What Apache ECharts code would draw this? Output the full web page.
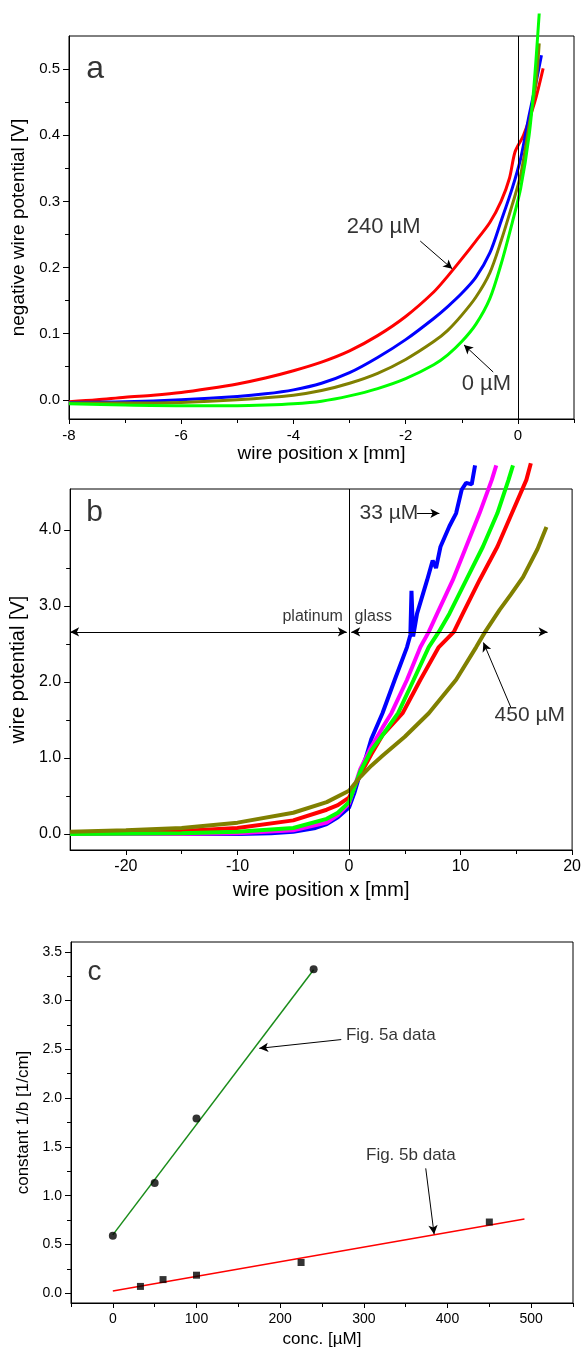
<!DOCTYPE html>
<html>
<head>
<meta charset="utf-8">
<script src="https://cdn.jsdelivr.net/npm/echarts@6/dist/echarts.min.js"></script>
<style>html,body{margin:0;padding:0;background:#fff}#c{width:584px;height:1349px}</style>
</head>
<body>
<div id="c"></div>
<script>
// ---------- Panel a: negative wire potential vs position ----------
const aRed240 = [[-8,-0.003],[-7.5,0.000],[-7,0.004],[-6.5,0.007],[-6,0.011],[-5.5,0.017],[-5,0.024],[-4.5,0.033],[-4,0.044],[-3.5,0.057],[-3,0.074],[-2.5,0.097],[-2,0.126],[-1.5,0.163],[-1.25,0.187],[-1,0.213],[-0.75,0.240],[-0.5,0.268],[-0.3,0.300],[-0.15,0.335],[-0.05,0.375],[0.1,0.400],[0.3,0.450],[0.45,0.501]];
const aBlue = [[-8,-0.004],[-7,-0.003],[-6,0.000],[-5,0.005],[-4.5,0.009],[-4,0.015],[-3.5,0.025],[-3,0.041],[-2.5,0.064],[-2,0.091],[-1.5,0.123],[-1.25,0.141],[-1,0.161],[-0.75,0.185],[-0.5,0.222],[-0.3,0.270],[-0.1,0.320],[0.05,0.365],[0.2,0.430],[0.32,0.478],[0.42,0.521]];
const aOlive = [[-8,-0.005],[-7,-0.005],[-6,-0.004],[-5,0.000],[-4,0.007],[-3.5,0.014],[-3,0.025],[-2.5,0.040],[-2,0.061],[-1.5,0.088],[-1.25,0.105],[-1,0.128],[-0.75,0.155],[-0.5,0.192],[-0.3,0.240],[-0.1,0.295],[0.05,0.340],[0.2,0.415],[0.32,0.478],[0.38,0.539]];
const aGreen0 = [[-8,-0.006],[-7,-0.008],[-6,-0.009],[-5,-0.009],[-4.5,-0.008],[-4,-0.006],[-3.5,-0.002],[-3,0.006],[-2.5,0.017],[-2,0.032],[-1.5,0.053],[-1.25,0.068],[-1,0.088],[-0.75,0.114],[-0.5,0.153],[-0.3,0.205],[-0.1,0.268],[0.05,0.320],[0.2,0.400],[0.29,0.478],[0.38,0.584]];
const aXTicks = [-8,-6,-4,-2,0];
const aXMinor = [-7,-5,-3,-1,1];
const aYTicks = [0,0.1,0.2,0.3,0.4,0.5];
const aYMinor = [0.05,0.15,0.25,0.35,0.45];

// ---------- Panel b: wire potential vs position ----------
const bBlue33 = [[-25,0.0],[-20,0.0],[-15,0.0],[-10,0.0],[-7,0.01],[-5,0.03],[-3,0.08],[-2,0.13],[-1,0.22],[0,0.35],[0.5,0.55],[1,0.8],[1.5,1.0],[2,1.25],[3,1.59],[4.1,2.03],[5.2,2.46],[5.5,2.62],[5.6,3.2],[5.75,2.6],[6.1,2.9],[7,3.34],[7.5,3.6],[7.8,3.5],[8.2,3.78],[9,4.05],[9.6,4.22],[10.1,4.53],[10.5,4.62],[11,4.6],[11.3,4.85]];
const bMagenta = [[-25,0.0],[-15,0.0],[-10,0.01],[-5,0.05],[-2,0.15],[-1,0.25],[0,0.4],[1,0.85],[2,1.15],[3,1.4],[3.8,1.59],[5.2,2.03],[6.4,2.46],[7.15,2.66],[7.9,2.9],[9.3,3.34],[10.5,3.78],[11.7,4.22],[12.8,4.66],[13.2,4.85]];
const bGreen = [[-25,0.0],[-15,0.01],[-10,0.03],[-5,0.08],[-2,0.2],[-1,0.28],[0,0.42],[1,0.82],[2,1.1],[3,1.3],[4.4,1.59],[5.8,2.03],[7.15,2.46],[8.05,2.66],[9.0,2.9],[10.5,3.34],[12.0,3.78],[13.3,4.22],[14.3,4.66],[14.7,4.85]];
const bRed = [[-25,0.01],[-20,0.02],[-15,0.04],[-10,0.08],[-5,0.18],[-2,0.32],[-1,0.38],[0,0.48],[1,0.78],[2,1.05],[3,1.3],[4.8,1.59],[6.4,2.03],[8.05,2.46],[9.4,2.66],[10.2,2.9],[11.7,3.34],[13.3,3.78],[14.6,4.22],[15.9,4.66],[16.3,4.88]];
const bOlive450 = [[-25,0.03],[-20,0.05],[-15,0.08],[-10,0.15],[-5,0.28],[-2,0.42],[0,0.57],[1,0.75],[2,0.9],[3,1.03],[5,1.28],[7.15,1.59],[9.6,2.03],[11.4,2.46],[12.2,2.66],[13.5,2.95],[14.5,3.15],[15.6,3.38],[16.9,3.75],[17.7,4.04]];
const bXTicks = [-20,-10,0,10,20];
const bXMinor = [-15,-5,5,15];
const bYTicks = [0,1,2,3,4];
const bYMinor = [0.5,1.5,2.5,3.5];

// ---------- Panel c: constant 1/b vs concentration ----------
const cConcA = [0,50,100,240];
const cValA = [0.59,1.13,1.79,3.32];
const cConcB = [33,60,100,225,450];
const cValB = [0.07,0.14,0.185,0.315,0.73];
const cFitA = [[0,0.598],[240,3.315]];
const cFitB = [[0,0.024],[492,0.762]];
const cXTicks = [0,100,200,300,400,500];
const cXMinor = [-50,50,150,250,350,450,550];
const cYTicks = [0,0.5,1,1.5,2,2.5,3,3.5];
const cYMinor = [0.25,0.75,1.25,1.75,2.25,2.75,3.25];

const FONT = 'Liberation Sans, Arial, sans-serif';
const chart = echarts.init(document.getElementById('c'), null, {renderer:'canvas', width:584, height:1349});

function mainX(gi, min, max, ticks, name, gap, fs, fmt, nfs){
  return {type:'value', gridIndex:gi, min, max, position:'bottom',
    axisLine:{onZero:false, lineStyle:{color:'#000', width:1}},
    axisTick:{show:true, customValues:ticks, length:5, lineStyle:{color:'#000'}},
    axisLabel:{customValues:ticks, color:'#000', fontSize:fs, fontFamily:FONT, margin:9, formatter:fmt},
    splitLine:{show:false}, name, nameLocation:'middle', nameGap:gap,
    nameTextStyle:{color:'#000', fontSize:nfs, fontFamily:FONT}};
}
function minorX(gi, min, max, ticks){
  return {type:'value', gridIndex:gi, min, max, position:'bottom',
    axisLine:{show:false, onZero:false}, axisLabel:{show:false},
    axisTick:{show:true, customValues:ticks, length:4, lineStyle:{color:'#000'}},
    splitLine:{show:false}};
}
function mainY(gi, min, max, ticks, name, gap, fs, fmt, nfs){
  return {type:'value', gridIndex:gi, min, max, position:'left',
    axisLine:{onZero:false, lineStyle:{color:'#000', width:1}},
    axisTick:{show:true, customValues:ticks, length:6, lineStyle:{color:'#000'}},
    axisLabel:{customValues:ticks, color:'#000', fontSize:fs, fontFamily:FONT, margin:9, formatter:fmt},
    splitLine:{show:false}, name, nameLocation:'middle', nameGap:gap, nameRotate:90,
    nameTextStyle:{color:'#000', fontSize:nfs, fontFamily:FONT}};
}
function minorY(gi, min, max, ticks){
  return {type:'value', gridIndex:gi, min, max, position:'left',
    axisLine:{show:false, onZero:false}, axisLabel:{show:false},
    axisTick:{show:true, customValues:ticks, length:4, lineStyle:{color:'#000'}},
    splitLine:{show:false}};
}
const f1 = v => Number(v).toFixed(1);
const f0 = v => String(Math.round(v));

function curve(xi, data, color, width, smooth){
  return {type:'line', xAxisIndex:xi, yAxisIndex:xi, data, showSymbol:false, symbol:'none',
    smooth, clip:false, silent:true, lineStyle:{color, width}, z:3};
}
function label(x, y, text, fs, pos){
  return {value:[x,y], label:{show:true, formatter:text, fontSize:fs, fontFamily:FONT, color:'#000',
    position:pos||'right', distance:0}};
}
function arrow(x1,y1,x2,y2){
  return [{coord:[x1,y1]},{coord:[x2,y2]}];
}
function annot(xi, labels, arrows, extraLines){
  const mlData = arrows.concat(extraLines||[]);
  return {type:'scatter', xAxisIndex:xi, yAxisIndex:xi, data:labels, symbolSize:1,
    itemStyle:{color:'rgba(0,0,0,0)'}, silent:true, z:10, clip:false,
    markLine:{silent:true, symbol:['none','arrow'], symbolSize:[7,9], precision:4,
      label:{show:false}, lineStyle:{color:'#000', width:1, type:'solid'}, data:mlData}};
}

const option = {
  animation:false,
  backgroundColor:'#fff',
  grid:[
    {left:69, top:36, width:505, height:383, show:true, borderColor:'#000', borderWidth:1, backgroundColor:'transparent'},
    {left:70, top:489, width:503, height:361, show:true, borderColor:'#000', borderWidth:1, backgroundColor:'transparent'},
    {left:71, top:942, width:502, height:361, show:true, borderColor:'#000', borderWidth:1, backgroundColor:'transparent'}
  ],
  xAxis:[
    mainX(0,-8,1,aXTicks,'wire position x [mm]',21,15,f0,19),
    mainX(1,-25,20,bXTicks,'wire position x [mm]',30,16,f0,20),
    mainX(2,-50,550,cXTicks,'conc. [\u00b5M]',28,14,f0,17),
    minorX(0,-8,1,aXMinor),
    minorX(1,-25,20,bXMinor),
    minorX(2,-50,550,cXMinor)
  ],
  yAxis:[
    mainY(0,-0.029,0.55,aYTicks,'negative wire potential [V]',30,15,f1,19),
    mainY(1,-0.21,4.54,bYTicks,'wire potential [V]',36,16,f1,20),
    mainY(2,-0.1,3.6,cYTicks,'constant 1/b [1/cm]',28,14,f1,17),
    minorY(0,-0.029,0.55,aYMinor),
    minorY(1,-0.21,4.54,bYMinor),
    minorY(2,-0.1,3.6,cYMinor)
  ],
  series:[
    // panel a
    curve(0,aRed240,'#ff0000',3,0.3),
    curve(0,aBlue,'#0000ff',3,0.3),
    curve(0,aOlive,'#808000',3,0.3),
    curve(0,aGreen0,'#00ff00',3,0.3),
    annot(0,[
      label(-7.7,0.50,'a',32),
      label(-3.06,0.262,'240 \u00b5M',22),
      label(-1.01,0.024,'0 \u00b5M',22)
    ],[
      arrow(-1.74,0.240,-1.17,0.198),
      arrow(-0.44,0.042,-0.96,0.083)
    ],[
      [{coord:[0,-0.029], symbol:'none'},{coord:[0,0.55], symbol:'none'}]
    ]),
    // panel b
    curve(1,bBlue33,'#0000ff',4,false),
    curve(1,bMagenta,'#ff00ff',4,false),
    curve(1,bRed,'#ff0000',4,false),
    curve(1,bGreen,'#00ff00',4,false),
    curve(1,bOlive450,'#808000',4,false),
    annot(1,[
      label(-23.6,4.23,'b',30),
      label(0.9,4.22,'33 \u00b5M',21),
      label(-0.5,2.86,'platinum',16,'left'),
      label(0.45,2.86,'glass',16),
      label(13.0,1.57,'450 \u00b5M',21)
    ],[
      arrow(6.1,4.22,8.1,4.22),
      arrow(14.5,1.67,12.05,2.52)
    ],[
      [{coord:[0,-0.21], symbol:'none'},{coord:[0,4.54], symbol:'none'}],
      [{coord:[-0.2,2.66], symbol:'arrow'},{coord:[-25,2.66], symbol:'arrow'}],
      [{coord:[0.2,2.66], symbol:'arrow'},{coord:[17.8,2.66], symbol:'arrow'}]
    ]),
    // panel c
    {type:'line', xAxisIndex:2, yAxisIndex:2, data:cFitA, showSymbol:false, symbol:'none', silent:true,
      lineStyle:{color:'#1a8c1a', width:1.5}, z:3},
    {type:'line', xAxisIndex:2, yAxisIndex:2, data:cFitB, showSymbol:false, symbol:'none', silent:true,
      lineStyle:{color:'#ff0000', width:1.5}, z:3},
    {type:'scatter', xAxisIndex:2, yAxisIndex:2, data:cConcA.map((c,i)=>[c,cValA[i]]), symbol:'circle',
      symbolSize:8, itemStyle:{color:'#000'}, silent:true, z:4},
    {type:'scatter', xAxisIndex:2, yAxisIndex:2, data:cConcB.map((c,i)=>[c,cValB[i]]), symbol:'rect',
      symbolSize:7, itemStyle:{color:'#000'}, silent:true, z:4},
    annot(2,[
      label(-31,3.29,'c',28),
      label(278,2.64,'Fig. 5a data',17),
      label(302,1.415,'Fig. 5b data',17)
    ],[
      arrow(273,2.60,175,2.51),
      arrow(374,1.28,384,0.605)
    ])
  ]
};
chart.setOption(option);
</script>
</body>
</html>
